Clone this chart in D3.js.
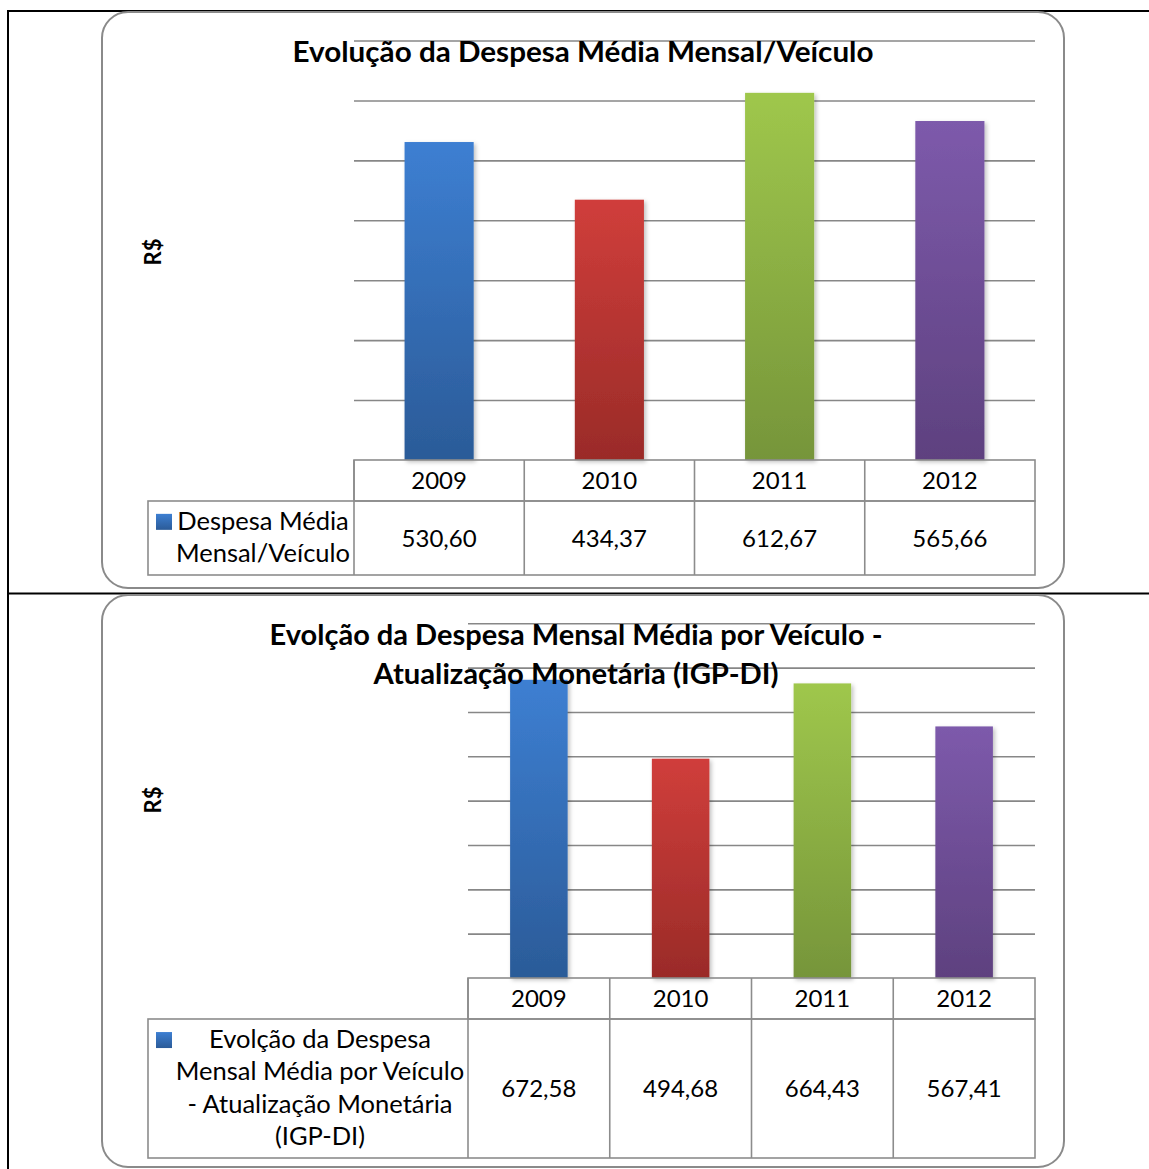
<!DOCTYPE html>
<html>
<head>
<meta charset="utf-8">
<script src="https://cdn.jsdelivr.net/npm/d3@7"></script>
<style>
  html, body { margin: 0; padding: 0; background: #fff; }
  svg { display: block; }
</style>
</head>
<body>
<div id="chart"></div>
<script>
// ---------- data ----------
const years = ["2009", "2010", "2011", "2012"];
const despesaMedia = [530.60, 434.37, 612.67, 565.66];
const despesaIGPDI = [672.58, 494.68, 664.43, 567.41];
const yMax1 = 700;
const yMax2 = 800;
const gridStep = 100;
const title1 = ["Evolução da Despesa Média Mensal/Veículo"];
const title2 = ["Evolção da Despesa Mensal Média por Veículo -", "Atualização Monetária (IGP-DI)"];
const legend1 = ["Despesa Média", "Mensal/Veículo"];
const legend2 = ["Evolção da Despesa", "Mensal Média por Veículo", "- Atualização Monetária", "(IGP-DI)"];
const axisLabel = "R$";
const barColors = [
  ["#3d7fd2", "#2b5b98"],
  ["#d03e3b", "#9a2b28"],
  ["#9fc74c", "#76953a"],
  ["#7d5aab", "#5e417f"]
];

// ---------- setup ----------
const W = 1149, H = 1169;
const svg = d3.select("#chart").append("svg").attr("width", W).attr("height", H);
const defs = svg.append("defs");
barColors.forEach((c, i) => {
  const g = defs.append("linearGradient").attr("id", "grad" + i)
    .attr("x1", 0).attr("y1", 0).attr("x2", 0).attr("y2", 1);
  g.append("stop").attr("offset", "0%").attr("stop-color", c[0]);
  g.append("stop").attr("offset", "100%").attr("stop-color", c[1]);
});
const f = defs.append("filter").attr("id", "shadow")
  .attr("x", "-20%").attr("y", "-10%").attr("width", "150%").attr("height", "130%");
f.append("feDropShadow").attr("dx", 2).attr("dy", 2).attr("stdDeviation", 2)
  .attr("flood-color", "#000").attr("flood-opacity", 0.25);

const numFmt = d3.formatLocale({decimal: ",", thousands: ".", grouping: [3], currency: ["R$", ""]}).format(".2f");
const FONT = "Lato, 'Open Sans', sans-serif";

// outer table border lines (document table)
const outer = svg.append("g").attr("stroke", "#000").attr("stroke-width", 2);
outer.append("line").attr("x1", 8).attr("x2", W).attr("y1", 11).attr("y2", 11);
outer.append("line").attr("x1", 8).attr("x2", W).attr("y1", 593.5).attr("y2", 593.5);
outer.append("line").attr("x1", 8).attr("x2", 8).attr("y1", 10).attr("y2", H);

function drawChart(cfg) {
  const g = svg.append("g");
  // frame
  g.append("rect")
    .attr("x", cfg.frame[0]).attr("y", cfg.frame[1])
    .attr("width", cfg.frame[2] - cfg.frame[0]).attr("height", cfg.frame[3] - cfg.frame[1])
    .attr("rx", 26).attr("ry", 26)
    .attr("fill", "#fff").attr("stroke", "#8a8a8a").attr("stroke-width", 2);

  const x = d3.scaleBand().domain(years).range([cfg.x0, cfg.x1]).paddingInner(0.594).paddingOuter(0.297);
  const col = d3.scaleBand().domain(years).range([cfg.x0, cfg.x1]).padding(0);
  const y = d3.scaleLinear().domain([0, cfg.yMax]).range([cfg.y0, cfg.yTop]);

  // gridlines
  const ticks = d3.range(gridStep, cfg.yMax + 1, gridStep);
  const grid = g.append("g").attr("transform", `translate(${cfg.x0},0)`)
    .call(d3.axisLeft(y).tickValues(ticks).tickSize(-(cfg.x1 - cfg.x0)).tickFormat(""));
  grid.select(".domain").remove();
  grid.selectAll(".tick line").attr("stroke", "#878787").attr("stroke-width", 1.6);

  // bars
  g.append("g").selectAll("rect").data(cfg.values).join("rect")
    .attr("x", (d, i) => x(years[i]))
    .attr("y", d => y(d))
    .attr("width", x.bandwidth())
    .attr("height", d => y(0) - y(d))
    .attr("fill", (d, i) => `url(#grad${i})`)
    .attr("filter", "url(#shadow)");

  // title
  g.append("g").selectAll("text").data(cfg.title).join("text")
    .attr("x", cfg.titleX)
    .attr("y", (d, i) => cfg.titleY + i * 39)
    .attr("text-anchor", "middle")
    .attr("font-family", FONT).attr("font-weight", "bold").attr("font-size", 28)
    .attr("fill", "#000")
    .attr("textLength", (d, i) => cfg.titleW[i])
    .attr("lengthAdjust", "spacingAndGlyphs")
    .text(d => d);

  // axis label
  g.append("text")
    .attr("transform", `translate(${cfg.labelX},${cfg.labelY}) rotate(-90)`)
    .attr("text-anchor", "middle")
    .attr("dy", "0.35em")
    .attr("font-family", FONT).attr("font-weight", "bold").attr("font-size", 22)
    .text(axisLabel);

  // data table
  const tbl = g.append("g").attr("fill", "none").attr("stroke", "#8c8c8c").attr("stroke-width", 1.6);
  tbl.append("rect").attr("x", cfg.x0).attr("y", cfg.y0)
    .attr("width", cfg.x1 - cfg.x0).attr("height", cfg.hdrB - cfg.y0);
  tbl.append("rect").attr("x", cfg.legL).attr("y", cfg.hdrB)
    .attr("width", cfg.x1 - cfg.legL).attr("height", cfg.rowB - cfg.hdrB);
  tbl.selectAll("line.sep").data(years).join("line").attr("class", "sep")
    .attr("x1", d => col(d)).attr("x2", d => col(d))
    .attr("y1", cfg.y0).attr("y2", cfg.rowB);

  const txt = g.append("g").attr("font-family", FONT).attr("font-size", 24).attr("fill", "#000");
  txt.selectAll("text.yr").data(years).join("text").attr("class", "yr")
    .attr("x", d => col(d) + col.bandwidth() / 2)
    .attr("y", (cfg.y0 + cfg.hdrB) / 2)
    .attr("dy", "0.36em").attr("text-anchor", "middle")
    .text(d => d);
  const rowMid = (cfg.hdrB + cfg.rowB) / 2;
  txt.selectAll("text.val").data(cfg.values).join("text").attr("class", "val")
    .attr("x", (d, i) => col(years[i]) + col.bandwidth() / 2)
    .attr("y", rowMid)
    .attr("dy", "0.36em").attr("text-anchor", "middle")
    .text(d => numFmt(d));

  // legend
  const lh = 32.3;
  const n = cfg.legend.length;
  const legCx = (cfg.legL + 24 + cfg.x0) / 2;
  const firstBase = rowMid + (0 - (n - 1) / 2) * lh + 8;
  g.append("rect").attr("x", cfg.legL + 8).attr("y", firstBase - 16)
    .attr("width", 16).attr("height", 16).attr("fill", "url(#grad0)");
  txt.selectAll("text.leg").data(cfg.legend).join("text").attr("class", "leg")
    .attr("x", legCx)
    .attr("y", (d, i) => rowMid + (i - (n - 1) / 2) * lh + 8)
    .attr("text-anchor", "middle")
    .attr("font-size", 25.5)
    .text(d => d);
}

drawChart({
  frame: [102, 12, 1064, 588],
  x0: 354, x1: 1035, yTop: 40.5, y0: 460, hdrB: 501, rowB: 575, legL: 148,
  yMax: yMax1, values: despesaMedia,
  title: title1, titleX: 583, titleY: 62, titleW: [581],
  legend: legend1, labelX: 153, labelY: 252
});

drawChart({
  frame: [102, 595, 1064, 1167],
  x0: 468, x1: 1035, yTop: 623.3, y0: 978, hdrB: 1019, rowB: 1158, legL: 148,
  yMax: yMax2, values: despesaIGPDI,
  title: title2, titleX: 576, titleY: 644.5, titleW: [613, 405],
  legend: legend2, labelX: 153, labelY: 800
});
</script>
</body>
</html>
